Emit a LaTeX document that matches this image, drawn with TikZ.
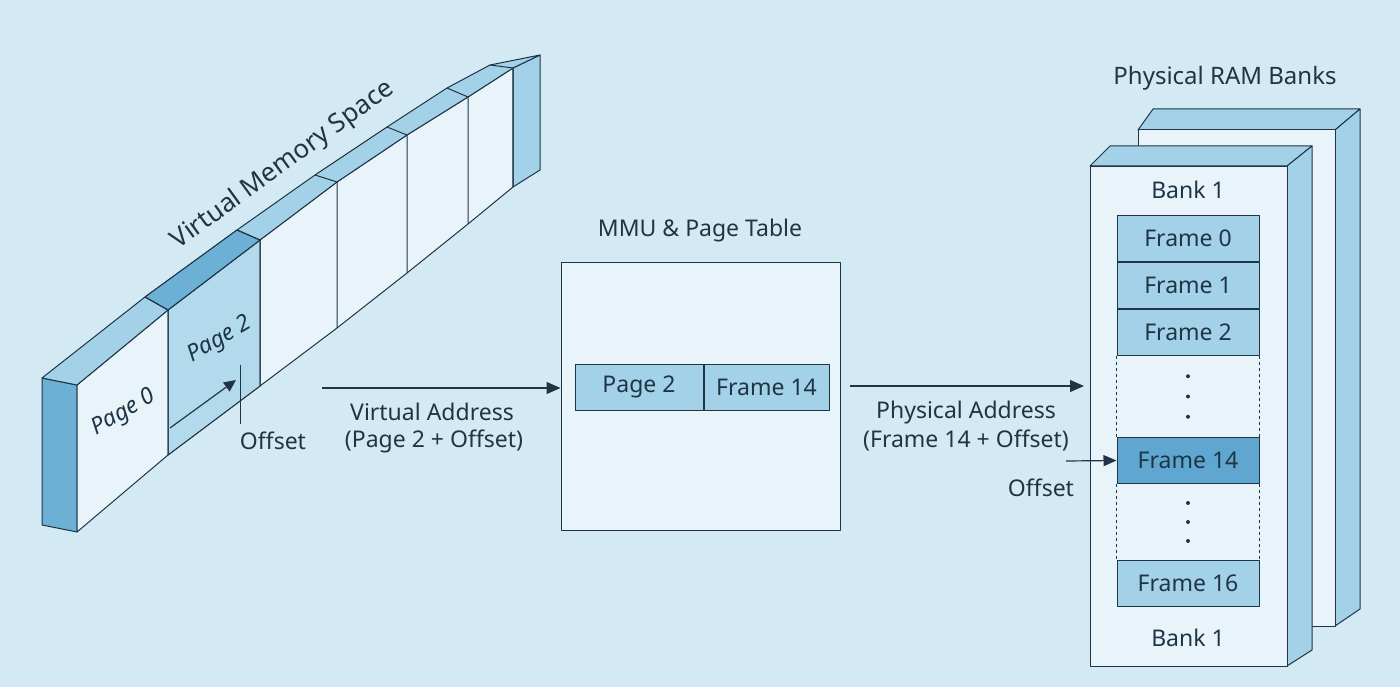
\documentclass[tikz,border=0pt]{standalone}
\usepackage{fontspec}
\setmainfont{Noto Sans}
\usetikzlibrary{calc,arrows.meta}
\definecolor{bg}{HTML}{D3EAF5}
\definecolor{ink}{HTML}{1F3546}
\definecolor{pale}{HTML}{E8F4FA}
\definecolor{mid}{HTML}{A2D1E8}
\definecolor{deep}{HTML}{6DB0D6}
\definecolor{hot}{HTML}{5FA7D1}
\tikzset{
  face/.style={draw=ink,line width=1pt,line join=round},
  lbl/.style={text=ink,font=\fontsize{23}{27}\selectfont,inner sep=0pt},
  frm/.style={face,fill=mid,minimum width=142pt,minimum height=46pt,inner sep=0pt,lbl},
  arr/.style={draw=ink,line width=1.2pt,-{Triangle[length=14pt,width=12pt]}}
}
\begin{document}
\begin{tikzpicture}[x=1pt,y=-1pt]
	\fill[bg] (0,0) rectangle (1400,687);
	\useasboundingbox (0,0) rectangle (1400,687);
	% virtual memory strip: back top (b), front top (t), front bottom (d)
	\foreach \i/\bx/\by/\tx/\ty/\dx/\dy in {0/42/378/77/385/77/532, 1/145/297/168/310/168/455,
		2/237/230/260/240/260/386, 3/315/175/337/182/337/328, 4/387/127/407/135/407/273,
		5/447/88/468/97/468/224, 6/490/65/513/68/513/187}{
		\coordinate (b\i) at (\bx,\by); \coordinate (t\i) at (\tx,\ty); \coordinate (d\i) at (\dx,\dy);
	}
	\coordinate (b7) at (540,55); \coordinate (r7) at (540,170);
	\draw[face,fill=deep] (b0) -- (t0) -- (d0) -- (42,525) -- cycle;
	\draw[face,fill=pale] (t0) -- (t1) -- (t2) -- (t3) -- (t4) -- (t5) -- (t6) -- (d6) -- (d5) -- (d4) -- (d3) -- (d2) -- (d1) -- (d0) -- cycle;
	\draw[face,fill=mid!75!pale] (t1) -- (t2) -- (d2) -- (d1) -- cycle;
	\draw[face,fill=mid] (t6) -- (b7) -- (r7) -- (d6) -- cycle;
	\draw[face,fill=mid] (b0) -- (b1) -- (b2) -- (b3) -- (b4) -- (b5) -- (b6) -- (b7) -- (t6) -- (t5) -- (t4) -- (t3) -- (t2) -- (t1) -- (t0) -- cycle;
	\draw[face,fill=deep] (b1) -- (b2) -- (t2) -- (t1) -- cycle;
	\foreach \i in {1,...,6}
		\draw[face] (b\i) -- (t\i) -- (d\i);
	\node[lbl,rotate=36,font=\fontsize{26}{30}\selectfont] (vms) at (283,165) {Virtual Memory Space};
	\node[lbl,rotate=30,font=\itshape\fontsize{23}{27}\selectfont] (pg0) at (124,413) {Page 0};
	\node[lbl,rotate=30,font=\itshape\fontsize{23}{27}\selectfont] (pg2) at (220,340) {Page 2};
	\coordinate (o1) at (170,428); \coordinate (o2) at (236,380);
	\draw[arr,-{Triangle[length=12pt,width=11pt]}] (o1) -- (o2);
	\draw[ink,line width=0.8pt] (240,365) -- (240,424);
	\node[lbl] (off1) at (273,441) {Offset};
	% MMU
	\node[lbl] (mmut) at (700,231) {MMU \& Page Table};
	\node[face,fill=pale,minimum width=279pt,minimum height=268pt] (mmu) at (700.5,396) {};
	\node[frm,minimum width=128pt] (ent1) at (639,387) {Page 2};
	\node[frm,minimum width=125pt,anchor=west] (ent2) at (ent1.east) {Frame 14};
	\coordinate (a1) at (322,388);
	\draw[arr] (a1) -- (mmu.west |- a1);
	\node[lbl] (va1) at (432,412) {Virtual Address};
	\node[lbl] (va2) at (434,441) {(Page 2 + Offset)};
	% RAM banks
	\node[lbl,font=\fontsize{24}{28}\selectfont] (ramt) at (1225,78) {Physical RAM Banks};
	\draw[face,fill=mid] (1138,130) -- (1153,109) -- (1360,109) -- (1335,130) -- cycle;
	\draw[face,fill=mid] (1335,130) -- (1360,109) -- (1360,609) -- (1335,626) -- cycle;
	\draw[face,fill=pale] (1138,130) rectangle (1335,626);
	\draw[face,fill=mid] (1090,166) -- (1110,146) -- (1312,146) -- (1287,166) -- cycle;
	\draw[face,fill=mid] (1287,166) -- (1312,146) -- (1312,650) -- (1287,666) -- cycle;
	\node[face,fill=pale,minimum width=197pt,minimum height=500pt,anchor=north west] (bank) at (1090,166) {};
	\node[lbl] (bk1) at (1188,190) {Bank 1};
	\node[lbl] (bk2) at (1188,638) {Bank 1};
	\node[frm,anchor=north] (f0) at (1188,215) {Frame 0};
	\node[frm,anchor=north] (f1) at (f0.south) {Frame 1};
	\node[frm,anchor=north] (f2) at (f1.south) {Frame 2};
	\node[frm,anchor=north,fill=hot] (f14) at (1188,437) {Frame 14};
	\node[frm,anchor=north] (f16) at (1188,560) {Frame 16};
	\foreach \a/\b in {f2/f14,f14/f16}{
		\draw[ink,dashed,line width=0.6pt] (\a.south west) -- (\b.north west);
		\draw[ink,dashed,line width=0.6pt] (\a.south east) -- (\b.north east);
		\foreach \k in {0.25,0.5,0.75}
			\fill[ink] ($(\a.south)!\k!(\b.north)$) circle (2pt);
	}
	\coordinate (a2) at (850,386);
	\draw[arr] (a2) -- (1084,386);
	\node[lbl] (pa1) at (966,413) {Physical Address};
	\node[lbl] (pa2) at (966,441) {(Frame 14 + Offset)};
	\coordinate (a3) at (1066,461);
	\draw[arr,-{Triangle[length=13pt,width=11pt]}] (a3) -- (f14.west);
	\node[lbl] (off2) at (1041,488) {Offset};
\end{tikzpicture}
\end{document}
